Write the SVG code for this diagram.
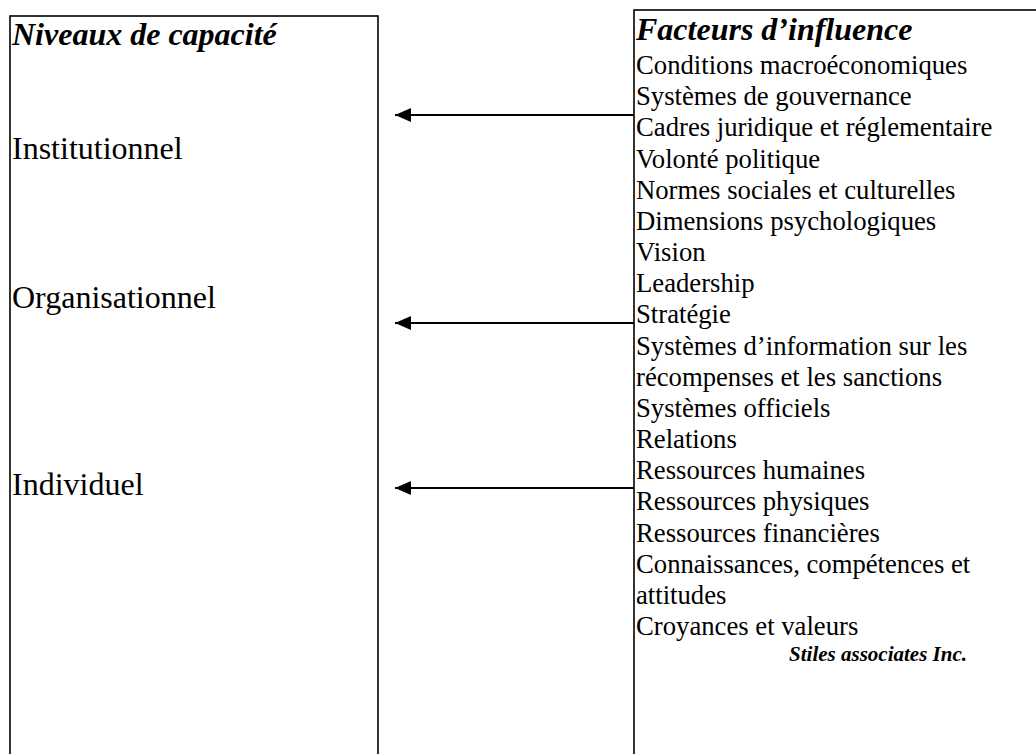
<svg xmlns="http://www.w3.org/2000/svg" width="1036" height="754" viewBox="0 0 1036 754">
<style>
.box{fill:none;stroke:#000;stroke-width:1.6}
.t{font-family:"Liberation Serif","Times New Roman",serif;fill:#000}
.h{font-weight:bold;font-style:italic;font-size:32px}
.lv{font-size:32px}
.f{font-size:26.7px}
.cr{font-weight:bold;font-style:italic;font-size:21px}
.ar{stroke:#000;stroke-width:2;fill:none}
</style>
<defs>
<marker id="ah" markerWidth="16" markerHeight="14" refX="16" refY="7" orient="auto" markerUnits="userSpaceOnUse" viewBox="0 0 16 14">
<path d="M0,0 L16,7 L0,14 Z" fill="#000"/>
</marker>
</defs>
<g id="levels">
<rect class="box" x="10" y="16" width="368" height="760"/>
<text class="t h" x="12" y="45">Niveaux de capacité</text>
<text class="t lv" x="12" y="159">Institutionnel</text>
<text class="t lv" x="12" y="308">Organisationnel</text>
<text class="t lv" x="12" y="495">Individuel</text>
</g>
<g id="factors">
<rect class="box" x="634" y="10" width="420" height="760"/>
<text class="t h" x="636" y="40">Facteurs d’influence</text>
<text class="t f" x="636" y="74">Conditions macroéconomiques</text>
<text class="t f" x="636" y="105">Systèmes de gouvernance</text>
<text class="t f" x="636" y="136">Cadres juridique et réglementaire</text>
<text class="t f" x="636" y="168">Volonté politique</text>
<text class="t f" x="636" y="199">Normes sociales et culturelles</text>
<text class="t f" x="636" y="230">Dimensions psychologiques</text>
<text class="t f" x="636" y="261">Vision</text>
<text class="t f" x="636" y="292">Leadership</text>
<text class="t f" x="636" y="323">Stratégie</text>
<text class="t f" x="636" y="355">Systèmes d’information sur les</text>
<text class="t f" x="636" y="386">récompenses et les sanctions</text>
<text class="t f" x="636" y="417">Systèmes officiels</text>
<text class="t f" x="636" y="448">Relations</text>
<text class="t f" x="636" y="479">Ressources humaines</text>
<text class="t f" x="636" y="510">Ressources physiques</text>
<text class="t f" x="636" y="542">Ressources financières</text>
<text class="t f" x="636" y="573">Connaissances, compétences et</text>
<text class="t f" x="636" y="604">attitudes</text>
<text class="t f" x="636" y="635">Croyances et valeurs</text>
<text class="t cr" x="967" y="661" text-anchor="end">Stiles associates Inc.</text>
</g>
<g id="connectors">
<line class="ar" x1="634" y1="115" x2="395" y2="115" marker-end="url(#ah)"/>
<line class="ar" x1="634" y1="323" x2="395" y2="323" marker-end="url(#ah)"/>
<line class="ar" x1="634" y1="488" x2="395" y2="488" marker-end="url(#ah)"/>
</g>
</svg>
